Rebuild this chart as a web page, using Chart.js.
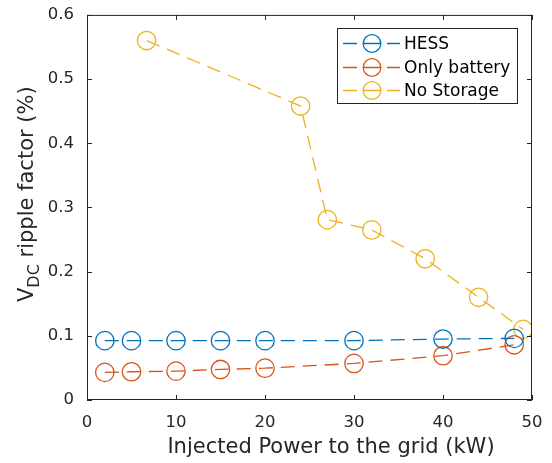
<!DOCTYPE html>
<html><head><meta charset="utf-8">
<script src="https://cdn.jsdelivr.net/npm/chart.js@4.4.0/dist/chart.umd.min.js"></script>
<style>html,body{margin:0;padding:0;background:#fff}#wrap{width:552px;height:463px}</style>
</head><body><div id="wrap"><canvas id="c" width="552" height="463"></canvas></div>
<script>
const seriesNames = ['HESS', 'Only battery', 'No Storage'];
const xHESS = [2, 5, 10, 15, 20, 30, 40, 48];
const yHESS = [0.0925, 0.0925, 0.0925, 0.0925, 0.0925, 0.0925, 0.095, 0.096];
const xBattery = [2, 5, 10, 15, 20, 30, 40, 48];
const yBattery = [0.043, 0.044, 0.045, 0.0476, 0.0496, 0.057, 0.069, 0.086];
const xNoStorage = [6.7, 24, 27, 32, 38, 44, 49];
const yNoStorage = [0.56, 0.458, 0.281, 0.265, 0.22, 0.16, 0.11];
const xTicks = [0, 10, 20, 30, 40, 50];
const yTicks = [0, 0.1, 0.2, 0.3, 0.4, 0.5, 0.6];
const xTitle = 'Injected Power to the grid (kW)';
const yTitleMain = 'V', yTitleSub = 'DC', yTitleRest = ' ripple factor (%)';

const colors = ['#0072BD', '#D95319', '#EDB120'];
const FONT = '"DejaVu Sans", sans-serif';
const AX = '#262626';

function pts(xs, ys) { return xs.map((x, i) => ({x, y: ys[i]})); }
function ds(i, data) {
  return {
    label: seriesNames[i], data, showLine: true,
    borderColor: colors[i], backgroundColor: 'rgba(0,0,0,0)',
    borderWidth: 1.3, borderDash: [14, 8],
    pointRadius: 9.2, pointHoverRadius: 9.2, pointBorderWidth: 1.3,
    pointBorderColor: colors[i], pointBackgroundColor: 'rgba(0,0,0,0)'
  };
}

const decor = {
  id: 'decor',
  afterDraw(chart) {
    const ctx = chart.ctx, a = chart.chartArea;
    const xs = chart.scales.x, ys = chart.scales.y;
    ctx.save();
    ctx.strokeStyle = AX; ctx.lineWidth = 1;
    ctx.strokeRect(a.left + 0.5, a.top + 0.5, a.right - a.left - 1, a.bottom - a.top - 1);
    const tl = 5;
    ctx.beginPath();
    xTicks.forEach(v => {
      const px = Math.round(xs.getPixelForValue(v)) + 0.5;
      ctx.moveTo(px, a.bottom); ctx.lineTo(px, a.bottom - tl);
      ctx.moveTo(px, a.top); ctx.lineTo(px, a.top + tl);
    });
    yTicks.forEach(v => {
      const py = Math.round(ys.getPixelForValue(v)) + 0.5;
      ctx.moveTo(a.left, py); ctx.lineTo(a.left + tl, py);
      ctx.moveTo(a.right, py); ctx.lineTo(a.right - tl, py);
    });
    ctx.stroke();

    // x title
    ctx.fillStyle = AX;
    ctx.font = '21px ' + FONT;
    ctx.textAlign = 'center'; ctx.textBaseline = 'alphabetic';
    ctx.fillText(xTitle, 331, 453);

    // y title with subscript
    ctx.save();
    ctx.translate(33, 302);
    ctx.rotate(-Math.PI / 2);
    ctx.textAlign = 'left';
    ctx.font = '21px ' + FONT;
    ctx.fillText(yTitleMain, 0, 0);
    let w = ctx.measureText(yTitleMain).width;
    ctx.font = '16px ' + FONT;
    ctx.fillText(yTitleSub, w, 6);
    w += ctx.measureText(yTitleSub).width;
    ctx.font = '21px ' + FONT;
    ctx.fillText(yTitleRest, w, 0);
    ctx.restore();

    // legend
    const lx = 337, ly = 28, lw = 180, lh = 75;
    ctx.fillStyle = '#fff';
    ctx.fillRect(lx, ly, lw, lh);
    ctx.strokeStyle = AX; ctx.lineWidth = 1;
    ctx.strokeRect(lx + 0.5, ly + 0.5, lw, lh);
    const rows = [43, 67, 90];
    seriesNames.forEach((name, i) => {
      const y = rows[i] + 0.5;
      ctx.strokeStyle = colors[i]; ctx.lineWidth = 1.3; ctx.setLineDash([]);
      ctx.beginPath();
      ctx.moveTo(343, y); ctx.lineTo(357, y);
      ctx.moveTo(363, y); ctx.lineTo(381, y);
      ctx.moveTo(387, y); ctx.lineTo(400, y);
      ctx.stroke();
      ctx.beginPath(); ctx.arc(372, y, 8.8, 0, Math.PI * 2); ctx.stroke();
      ctx.fillStyle = '#000';
      ctx.font = '17px ' + FONT;
      ctx.textAlign = 'left'; ctx.textBaseline = 'middle';
      ctx.fillText(name, 404, y + 1);
    });
    ctx.restore();
  }
};

new Chart(document.getElementById('c'), {
  type: 'scatter',
  data: { datasets: [ds(0, pts(xHESS, yHESS)), ds(1, pts(xBattery, yBattery)), ds(2, pts(xNoStorage, yNoStorage))] },
  options: {
    responsive: false, animation: false,
    layout: { padding: { left: 0, right: 20, top: 13, bottom: 0 } },
    plugins: { legend: { display: false }, tooltip: { enabled: false } },
    scales: {
      x: {
        type: 'linear', min: 0, max: 50,
        afterBuildTicks: s => { s.ticks = xTicks.map(v => ({value: v})); },
        afterFit: s => { s.height = 63; },
        grid: { display: false }, border: { display: false },
        ticks: { color: AX, font: { family: FONT, size: 16.5 }, padding: 5, maxRotation: 0, autoSkip: false,
                 callback: v => String(v) }
      },
      y: {
        type: 'linear', min: 0, max: 0.6,
        afterBuildTicks: s => { s.ticks = yTicks.map(v => ({value: v})); },
        afterFit: s => { s.width = 87; },
        grid: { display: false }, border: { display: false },
        ticks: { color: AX, font: { family: FONT, size: 16.5 }, padding: 5, autoSkip: false,
                 callback: v => String(Math.round(v * 10) / 10) }
      }
    }
  },
  plugins: [decor]
});
</script></body></html>
